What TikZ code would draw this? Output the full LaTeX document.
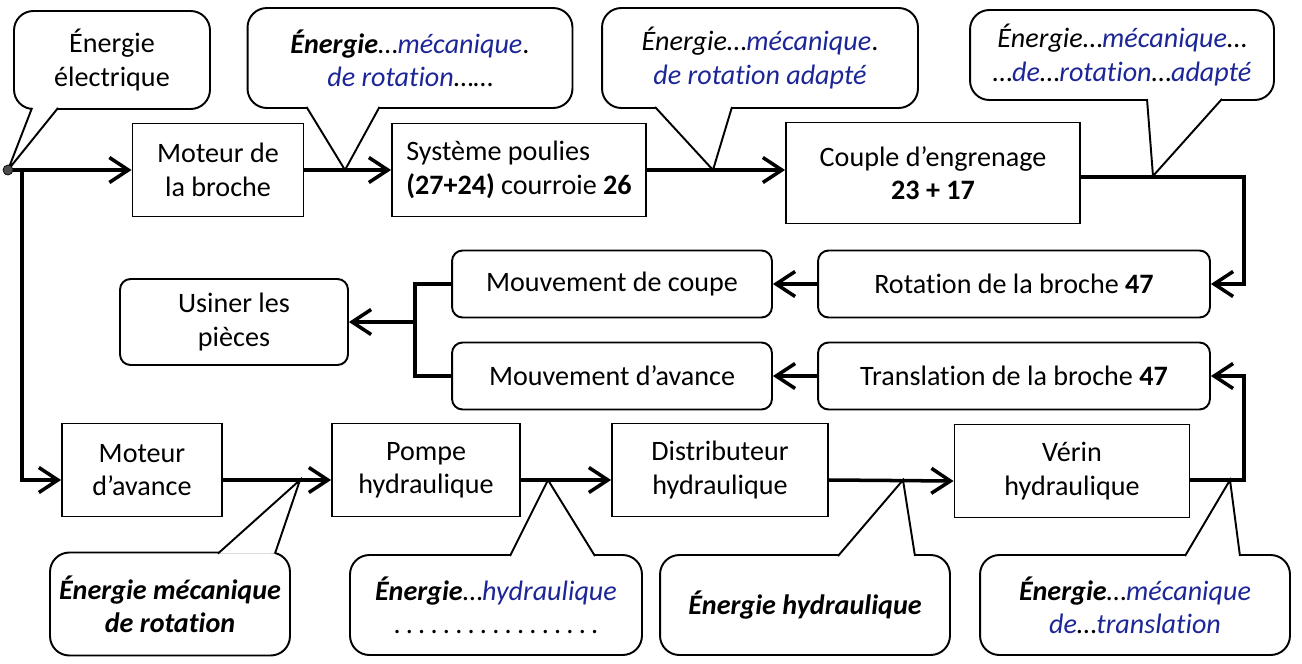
\documentclass[tikz,border=0pt]{standalone}
\usepackage{fontspec}
\setmainfont{Carlito}[Ligatures=NoCommon]
\usetikzlibrary{arrows.meta,calc}
\definecolor{encre}{RGB}{28,38,150}
\newcommand{\hw}[1]{{\color{encre}\itshape #1}}

\begin{document}
\begin{tikzpicture}[x=0.02cm, y=-0.02cm]
  \tikzstyle{every node} = [font = \fontsize{16}{19}\selectfont,
                            inner sep = 2pt]
  \tikzstyle{bloc} = [draw, line width = 1.1pt, align = center,
                      minimum height = 1.86cm]
  \tikzstyle{rbloc} = [draw, line width = 1.1pt, align = center,
                       rounded corners = 6pt, minimum height = 1.34cm]
  \tikzstyle{bulle} = [draw, line width = 1.1pt, align = center,
                       rounded corners = 11pt, fill = white]
  \tikzstyle{queue} = [line width = 1.1pt, fill = white, line join = miter]
  \tikzstyle{fleche} = [line width = 2pt,
                        -{Straight Barb[length=3.8mm, width=5mm]}]
  \tikzstyle{trait} = [line width = 2pt]
\useasboundingbox (0,0) rectangle (1302,663);

% bulles du haut
\node[bulle, minimum width=3.92cm, minimum height=1.96cm] (c1) at (112,60)
  {Énergie\\électrique};
\node[bulle, minimum width=6.5cm, minimum height=2cm] (c2) at (410,58)
  {{\bfseries\itshape Énergie}\ldots\hw{mécanique}.\\\hw{de rotation}\ldots\ldots};
\node[bulle, minimum width=6.32cm, minimum height=2cm] (c3) at (760,58)
  {{\itshape Énergie}\ldots\hw{mécanique}.\\\hw{de rotation adapté}};
\node[bulle, minimum width=6.08cm, minimum height=1.8cm] (c4) at (1122,55)
  {{\itshape Énergie}\ldots\hw{mécanique}\ldots\\\ldots\hw{de}\ldots\hw{rotation}\ldots\hw{adapté}};

% bulles du bas
\node[bulle, minimum width=4.8cm, minimum height=2.06cm] (b1) at (170,604)
  {\bfseries\itshape Énergie mécanique\\\bfseries\itshape de rotation};
\node[bulle, minimum width=5.84cm, minimum height=2cm] (b2) at (496,605)
  {{\bfseries\itshape Énergie}\ldots\hw{hydraulique}\\\makebox[4.4cm]{\dotfill}};
\node[bulle, minimum width=5.8cm, minimum height=2cm] (b3) at (805,605)
  {\bfseries\itshape Énergie hydraulique};
\node[bulle, minimum width=6.2cm, minimum height=2cm] (b4) at (1135,605)
  {{\bfseries\itshape Énergie}\ldots\hw{mécanique}\\\hw{de}\ldots\hw{translation}};

% pointes des bulles
\coordinate (p2) at (345,170);
\coordinate (p3) at (713,170);
\coordinate (p4) at (1153,176);
\coordinate (q1) at (300,480);
\coordinate (q2) at (548,480);
\coordinate (q3) at (903,480);
\coordinate (q4) at (1230,480);
\coordinate (src) at (8,170);

\draw[queue] ([xshift=-1.6cm, yshift=0.04cm]c1.south) -- (src)
  -- ([xshift=-1.08cm, yshift=0.04cm]c1.south);
\draw[queue] ([xshift=-2.07cm, yshift=0.04cm]c2.south) -- (p2)
  -- ([xshift=-0.61cm, yshift=0.04cm]c2.south);
\draw[queue] ([xshift=-2.1cm, yshift=0.04cm]c3.south) -- (p3)
  -- ([xshift=-0.56cm, yshift=0.04cm]c3.south);
\draw[queue] ([xshift=0.5cm, yshift=0.04cm]c4.south) -- (p4)
  -- ([xshift=2cm, yshift=0.04cm]c4.south);
\draw[queue] ([xshift=0.96cm, yshift=-0.04cm]b1.north) -- (q1)
  -- ([xshift=2.1cm, yshift=-0.04cm]b1.north);
\draw[queue] ([xshift=0.28cm, yshift=-0.04cm]b2.north) -- (q2)
  -- ([xshift=1.98cm, yshift=-0.04cm]b2.north);
\draw[queue] ([xshift=0.66cm, yshift=-0.04cm]b3.north) -- (q3)
  -- ([xshift=2.2cm, yshift=-0.04cm]b3.north);
\draw[queue] ([xshift=1cm, yshift=-0.04cm]b4.north) -- (q4)
  -- ([xshift=2.1cm, yshift=-0.04cm]b4.north);
\node[circle, draw, fill=gray!60!black, inner sep=0pt, minimum size=0.2cm] (pt) at (src) {};

% chaine de la broche
\node[bloc, minimum width=3.42cm] (mb) at (218,170) {Moteur de\\la broche};
\node[bloc, minimum width=5.08cm, align=left] (sp) at (519,170)
  {Système poulies\\\textbf{(27+24)} courroie \textbf{26}};
\node[bloc, minimum width=5.88cm, minimum height=2.02cm] (ce) at (933,173)
  {Couple d’engrenage\\\textbf{23 + 17}};
\node[rbloc, minimum width=7.84cm] (rot) at (1014,284) {Rotation de la broche \textbf{47}};
\node[rbloc, minimum width=7.84cm] (tra) at (1014,376) {Translation de la broche \textbf{47}};
\node[rbloc, minimum width=6.4cm] (mc) at (612,284) {Mouvement de coupe};
\node[rbloc, minimum width=6.4cm] (ma) at (612,376) {Mouvement d’avance};
\node[rbloc, minimum width=4.56cm, minimum height=1.72cm] (us) at (234,322) {Usiner les\\pièces};

% chaine d'avance
\node[bloc, minimum width=3.2cm] (mav) at (142,470) {Moteur\\d’avance};
\node[bloc, minimum width=3.76cm] (po) at (426,470) {Pompe\\hydraulique};
\node[bloc, minimum width=4.32cm] (di) at (720,470) {Distributeur\\hydraulique};
\node[bloc, minimum width=4.7cm] (ve) at (1072,471) {Vérin\\hydraulique};

\coordinate (bif) at (22,170);
\coordinate (jn) at (415,322);

\draw[fleche] (pt.east) -- (mb.west);
\draw[fleche] (mb.east) -- (sp.west);
\draw[fleche] (sp.east) -- (sp.east -| ce.west);
\draw[fleche] ([yshift=-0.08cm]ce.east) -| ($(rot.east)+(0.66cm,0)$) -- (rot.east);
\draw[fleche] (rot.west) -- (mc.east);
\draw[fleche] (tra.west) -- (ma.east);
\draw[trait] (mc.west) -| (jn) |- (ma.west);
\draw[fleche] (jn) -- (us.east);

\draw[fleche] (bif) |- ([yshift=-0.2cm]mav.west);
\draw[fleche] ([yshift=-0.2cm]mav.east) -- ([yshift=-0.2cm]po.west);
\draw[fleche] ([yshift=-0.2cm]po.east) -- ([yshift=-0.2cm]di.west);
\draw[fleche] ([yshift=-0.2cm]di.east) -- ([yshift=-0.2cm]ve.west);
\draw[fleche] ([yshift=-0.18cm]ve.east) -| ($(tra.east)+(0.66cm,0)$) -- (tra.east);

\end{tikzpicture}
\end{document}
